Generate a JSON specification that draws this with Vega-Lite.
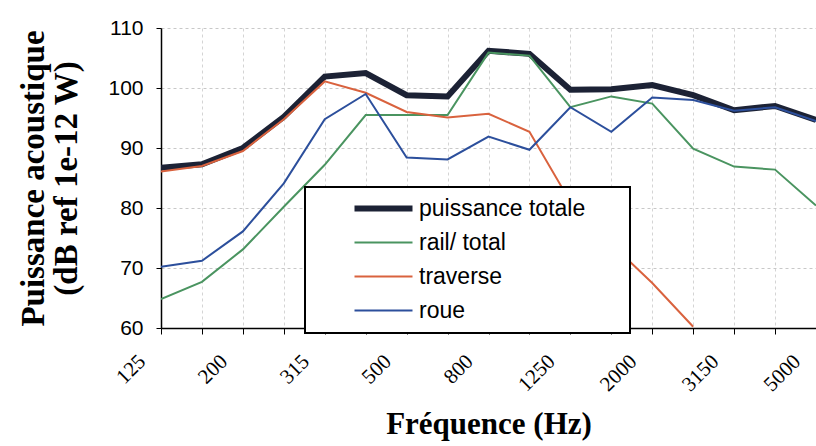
{
  "$schema": "https://vega.github.io/schema/vega-lite/v6.json",
  "width": 655,
  "height": 300,
  "autosize": {"type": "none"},
  "padding": {"left": 161, "top": 28, "right": 0, "bottom": 118},
  "background": "white",
  "config": {"view": {"stroke": null}},
  "data": {"values": [
    {"f": "125", "s": "puissance totale", "v": 86.7},
    {"f": "160", "s": "puissance totale", "v": 87.3},
    {"f": "200", "s": "puissance totale", "v": 90.0},
    {"f": "250", "s": "puissance totale", "v": 95.2},
    {"f": "315", "s": "puissance totale", "v": 101.9},
    {"f": "400", "s": "puissance totale", "v": 102.5},
    {"f": "500", "s": "puissance totale", "v": 98.8},
    {"f": "630", "s": "puissance totale", "v": 98.6},
    {"f": "800", "s": "puissance totale", "v": 106.2},
    {"f": "1000", "s": "puissance totale", "v": 105.7},
    {"f": "1250", "s": "puissance totale", "v": 99.7},
    {"f": "1600", "s": "puissance totale", "v": 99.8},
    {"f": "2000", "s": "puissance totale", "v": 100.5},
    {"f": "2500", "s": "puissance totale", "v": 98.8},
    {"f": "3150", "s": "puissance totale", "v": 96.3},
    {"f": "4000", "s": "puissance totale", "v": 97.0},
    {"f": "5000", "s": "puissance totale", "v": 94.7},
    {"f": "125", "s": "rail/ total", "v": 64.8},
    {"f": "160", "s": "rail/ total", "v": 67.7},
    {"f": "200", "s": "rail/ total", "v": 73.1},
    {"f": "250", "s": "rail/ total", "v": 80.2},
    {"f": "315", "s": "rail/ total", "v": 87.2},
    {"f": "400", "s": "rail/ total", "v": 95.5},
    {"f": "500", "s": "rail/ total", "v": 95.5},
    {"f": "630", "s": "rail/ total", "v": 95.5},
    {"f": "800", "s": "rail/ total", "v": 105.9},
    {"f": "1000", "s": "rail/ total", "v": 105.4},
    {"f": "1250", "s": "rail/ total", "v": 96.8},
    {"f": "1600", "s": "rail/ total", "v": 98.6},
    {"f": "2000", "s": "rail/ total", "v": 97.4},
    {"f": "2500", "s": "rail/ total", "v": 89.9},
    {"f": "3150", "s": "rail/ total", "v": 86.9},
    {"f": "4000", "s": "rail/ total", "v": 86.4},
    {"f": "5000", "s": "rail/ total", "v": 80.4},
    {"f": "125", "s": "traverse", "v": 86.1},
    {"f": "160", "s": "traverse", "v": 87.0},
    {"f": "200", "s": "traverse", "v": 89.5},
    {"f": "250", "s": "traverse", "v": 94.8},
    {"f": "315", "s": "traverse", "v": 101.1},
    {"f": "400", "s": "traverse", "v": 99.2},
    {"f": "500", "s": "traverse", "v": 96.0},
    {"f": "630", "s": "traverse", "v": 95.1},
    {"f": "800", "s": "traverse", "v": 95.7},
    {"f": "1000", "s": "traverse", "v": 92.7},
    {"f": "1250", "s": "traverse", "v": 81.0},
    {"f": "1600", "s": "traverse", "v": 74.0},
    {"f": "2000", "s": "traverse", "v": 67.5},
    {"f": "2500", "s": "traverse", "v": 60.2},
    {"f": "125", "s": "roue", "v": 70.2},
    {"f": "160", "s": "roue", "v": 71.2},
    {"f": "200", "s": "roue", "v": 76.1},
    {"f": "250", "s": "roue", "v": 84.1},
    {"f": "315", "s": "roue", "v": 94.8},
    {"f": "400", "s": "roue", "v": 99.0},
    {"f": "500", "s": "roue", "v": 88.4},
    {"f": "630", "s": "roue", "v": 88.1},
    {"f": "800", "s": "roue", "v": 91.9},
    {"f": "1000", "s": "roue", "v": 89.7},
    {"f": "1250", "s": "roue", "v": 96.8},
    {"f": "1600", "s": "roue", "v": 92.7},
    {"f": "2000", "s": "roue", "v": 98.4},
    {"f": "2500", "s": "roue", "v": 98.0},
    {"f": "3150", "s": "roue", "v": 96.2},
    {"f": "4000", "s": "roue", "v": 96.8},
    {"f": "5000", "s": "roue", "v": 94.5}
  ]},
  "encoding": {
    "x": {
      "field": "f", "type": "ordinal",
      "sort": ["125","160","200","250","315","400","500","630","800","1000","1250","1600","2000","2500","3150","4000","5000"],
      "scale": {"type": "point", "padding": 0},
      "axis": {
        "title": "Fréquence (Hz)",
        "titleFont": "Liberation Serif", "titleFontSize": 31, "titleFontWeight": "bold", "titleColor": "black",
        "titlePadding": 15,
        "labelExpr": "indexof(['125','200','315','500','800','1250','2000','3150','5000'], datum.label) >= 0 ? datum.label : ''",
        "labelAngle": -45, "labelAlign": "right", "labelBaseline": "middle",
        "labelOffset": -19, "labelPadding": 24,
        "labelFont": "Liberation Serif", "labelFontSize": 21, "labelColor": "black",
        "domainColor": "black", "domainWidth": 1.5,
        "tickColor": "black", "tickSize": 6, "tickWidth": 1,
        "grid": true, "gridColor": "#d4d4d4", "gridDash": [3, 3], "gridWidth": 1
      }
    },
    "y": {
      "field": "v", "type": "quantitative",
      "scale": {"domain": [60, 110], "nice": false, "zero": false},
      "axis": {
        "values": [60, 70, 80, 90, 100, 110],
        "title": ["Puissance acoustique", "(dB ref 1e-12 W)"],
        "titleFont": "Liberation Serif", "titleFontSize": 33, "titleFontWeight": "bold", "titleColor": "black",
        "titleLineHeight": 33, "titlePadding": 24,
        "labelFont": "Liberation Sans", "labelFontSize": 21, "labelColor": "black", "labelPadding": 13,
        "domainColor": "black", "domainWidth": 1.5,
        "tickColor": "black", "tickSize": 5,
        "grid": true, "gridColor": "#c8c8c8", "gridDash": [3, 3], "gridWidth": 1
      }
    },
    "color": {
      "field": "s", "type": "nominal",
      "scale": {
        "domain": ["puissance totale", "rail/ total", "traverse", "roue"],
        "range": ["#1c2235", "#4a9460", "#d9623e", "#2c4f9c"]
      },
      "legend": {
        "title": null, "orient": "none", "legendX": 144, "legendY": 159,
        "strokeColor": "black", "fillColor": "white", "padding": 10,
        "symbolType": "M-2.9,0H2.9", "symbolSize": 400, "symbolOffset": 57,
        "labelFont": "Liberation Sans", "labelFontSize": 23, "labelColor": "black",
        "labelOffset": 24, "rowPadding": 10, "labelLimit": 400,
        "labelExpr": "datum.label + '\u2800\u2800'",
        "encode": {
          "legend": {"update": {"strokeWidth": {"value": 2}}},
          "symbols": {"update": {"strokeWidth": {"signal": "datum.value === 'puissance totale' ? 6 : 2"}}}
        }
      }
    }
  },
  "layer": [
    {
      "transform": [{"filter": "datum.s === 'puissance totale'"}],
      "mark": {"type": "line", "clip": true, "strokeWidth": 6}
    },
    {
      "transform": [{"filter": "datum.s !== 'puissance totale'"}],
      "mark": {"type": "line", "clip": true, "strokeWidth": 2}
    }
  ]
}
